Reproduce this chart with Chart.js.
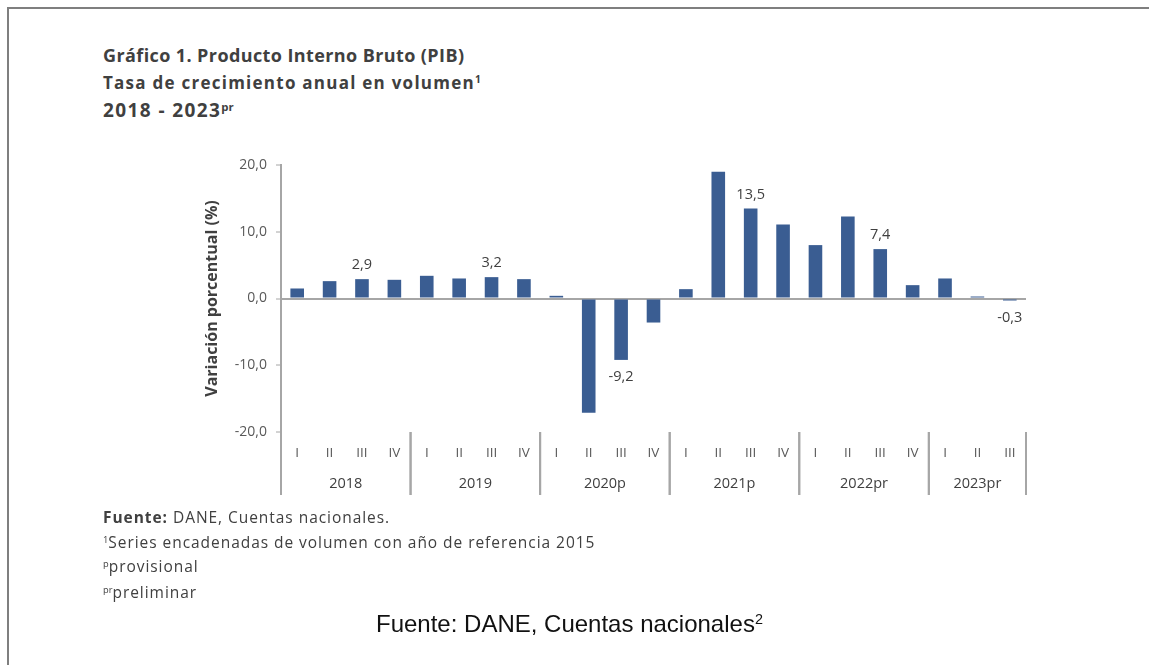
<!DOCTYPE html>
<html>
<head>
<meta charset="utf-8">
<script src="https://cdn.jsdelivr.net/npm/chart.js@4.4.1/dist/chart.umd.min.js"></script>
<style>
  html, body { margin: 0; padding: 0; background: #fff; }
  body { width: 1149px; height: 665px; position: relative; overflow: hidden; font-family: "Open Sans", sans-serif; color: #404040; }
  .frame { position: absolute; left: 7px; top: 7px; right: -10px; bottom: -10px; border-top: 2px solid #7f7f7f; border-left: 2px solid #7f7f7f; }
  .t { position: absolute; left: 103px; font-weight: bold; white-space: nowrap; color: #404040; }
  .note { position: absolute; left: 103px; font-size: 15.5px; letter-spacing: 0.95px; color: #404040; white-space: nowrap; font-family: "Open Sans", sans-serif; }
  sup { font-size: 0.6em; vertical-align: 0.55em; line-height: 0; letter-spacing: 0; }
  #wrap { position: absolute; left: 0; top: 0; width: 1149px; height: 665px; }
  .src { position: absolute; left: 376px; top: 610px; font-family: "Liberation Sans", Arial, sans-serif; font-size: 24px; color: #111; white-space: nowrap; }
</style>
</head>
<body>
<div class="frame"></div>
<div class="t" style="top:43px;font-size:18px;letter-spacing:0.4px;">Gráfico 1. Producto Interno Bruto (PIB)</div>
<div class="t" style="top:71px;font-size:17px;letter-spacing:1.25px;">Tasa de crecimiento anual en volumen<sup>1</sup></div>
<div class="t" style="top:97px;font-size:19px;letter-spacing:1.4px;">2018 - 2023<sup>pr</sup></div>

<div id="wrap"><canvas id="pib"></canvas></div>

<div class="note" style="top:506px;"><b>Fuente:</b> DANE, Cuentas nacionales.</div>
<div class="note" style="top:531px;"><sup>1</sup>Series encadenadas de volumen con año de referencia 2015</div>
<div class="note" style="top:555px;"><sup>p</sup>provisional</div>
<div class="note" style="top:581px;"><sup>pr</sup>preliminar</div>
<div class="src">Fuente: DANE, Cuentas nacionales<sup>2</sup></div>

<script>
// ---------- Data ----------
const quarters = ["I", "II", "III", "IV", "I", "II", "III", "IV", "I", "II", "III", "IV",
                  "I", "II", "III", "IV", "I", "II", "III", "IV", "I", "II", "III"];
const years = ["2018", "2019", "2020p", "2021p", "2022pr", "2023pr"];
const quartersPerYear = [4, 4, 4, 4, 4, 3];
const values = [1.5, 2.6, 2.9, 2.8, 3.4, 3.0, 3.2, 2.9, 0.4, -17.1, -9.2, -3.6,
                1.4, 19.0, 13.5, 11.1, 8.0, 12.3, 7.4, 2.0, 3.0, 0.3, -0.3];
const labeledBars = [2, 6, 10, 14, 18, 22];
const yTicks = [-20, -10, 0, 10, 20];

const GREY = "#a6a6a6";
const TEXT = "#595959";

const fmt = v => v.toFixed(1).replace(".", ",");

// ---------- Plugins ----------
const yearGroups = {
  id: "yearGroups",
  afterDraw(chart) {
    const { ctx, chartArea } = chart;
    const x = chart.scales.x;
    const half = (x.getPixelForValue(1) - x.getPixelForValue(0)) / 2;
    ctx.save();
    ctx.strokeStyle = GREY;
    ctx.lineWidth = 2;
    ctx.fillStyle = "#404040";
    ctx.font = "14.5px 'Open Sans'";
    ctx.textAlign = "center";
    ctx.textBaseline = "middle";
    let start = 0;
    years.forEach((yr, i) => {
      const end = start + quartersPerYear[i] - 1;
      const x0 = x.getPixelForValue(start) - half;
      const x1 = x.getPixelForValue(end) + half;
      [x0, x1].forEach(px => {
        ctx.beginPath();
        ctx.moveTo(px, chartArea.bottom);
        ctx.lineTo(px, chartArea.bottom + 63);
        ctx.stroke();
      });
      ctx.fillText(yr, (x0 + x1) / 2, chartArea.bottom + 52);
      start = end + 1;
    });
    ctx.restore();
  }
};

const barLabels = {
  id: "barLabels",
  afterDatasetsDraw(chart) {
    const { ctx } = chart;
    const meta = chart.getDatasetMeta(0);
    ctx.save();
    ctx.fillStyle = "#404040";
    ctx.font = "14.5px 'Open Sans'";
    ctx.textAlign = "center";
    ctx.textBaseline = "middle";
    labeledBars.forEach(i => {
      const bar = meta.data[i];
      const v = values[i];
      const y = v >= 0 ? bar.y - 14 : bar.y + 17;
      ctx.fillText(fmt(v), bar.x, y);
    });
    ctx.restore();
  }
};

// ---------- Chart ----------
new Chart(document.getElementById("pib"), {
  type: "bar",
  data: {
    labels: quarters,
    datasets: [{
      data: values,
      backgroundColor: "#3a5d92",
      borderWidth: 0,
      barPercentage: 0.42,
      categoryPercentage: 1
    }]
  },
  options: {
    responsive: true,
    maintainAspectRatio: false,
    animation: false,
    events: [],
    layout: { padding: { left: 195, top: 165, right: 123, bottom: 170 } },
    plugins: { legend: { display: false }, tooltip: { enabled: false } },
    scales: {
      x: {
        grid: { display: false, drawTicks: false },
        border: { display: false },
        ticks: { color: TEXT, font: { size: 13.5, family: "Open Sans" }, padding: 13, maxRotation: 0, autoSkip: false },
        afterFit(scale) { scale.height = 63; }
      },
      y: {
        min: -20,
        max: 20,
        afterBuildTicks(scale) { scale.ticks = yTicks.map(v => ({ value: v })); },
        grid: {
          color: c => (c.tick && c.tick.value === 0 ? GREY : "transparent"),
          lineWidth: 2,
          tickColor: GREY,
          tickLength: 5,
          tickWidth: 1
        },
        border: { display: true, color: GREY, width: 2 },
        ticks: { color: TEXT, font: { size: 14, family: "Open Sans" }, padding: 9, callback: v => fmt(v) },
        title: {
          display: true,
          text: "Variación porcentual (%)",
          color: "#404040",
          font: { size: 16, weight: "bold", family: "Open Sans" },
          padding: { top: 8, bottom: 0 }
        },
        afterFit(scale) { scale.width = 86; }
      }
    }
  },
  plugins: [yearGroups, barLabels]
});
</script>
</body>
</html>
